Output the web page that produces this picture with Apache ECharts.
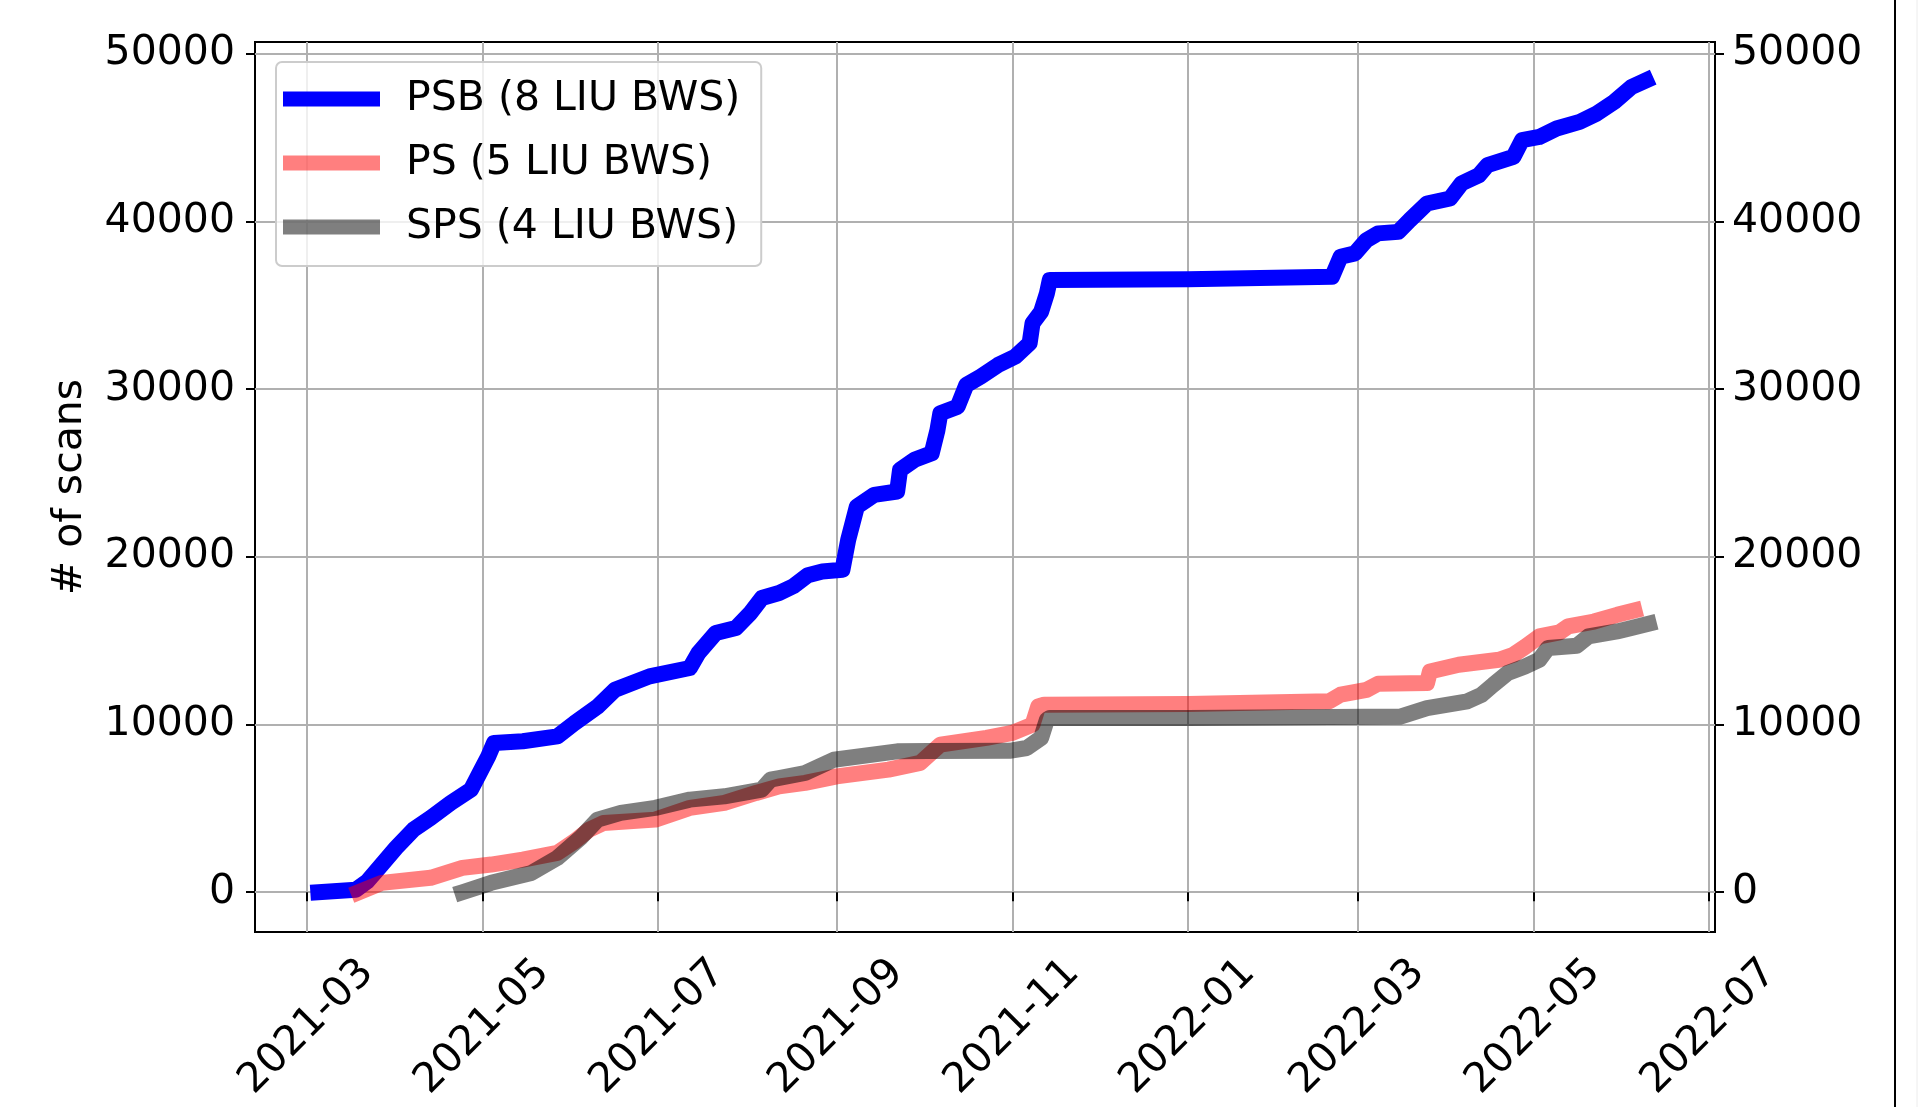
<!DOCTYPE html>
<html>
<head>
<meta charset="utf-8">
<title>LIU BWS scans</title>
<script src="https://cdn.jsdelivr.net/npm/echarts@6/dist/echarts.min.js"></script>
<style>
  html, body { margin: 0; padding: 0; background: #fff; }
  #chart { width: 1924px; height: 1107px; }
</style>
</head>
<body>
<div id="chart"></div>
<script>
// cumulative number of scans
const psbDates = ["2021-03-05", "2021-03-18", "2021-03-22", "2021-03-26", "2021-04-01", "2021-04-07", "2021-04-13", "2021-04-20", "2021-04-27", "2021-04-30",
  "2021-05-03", "2021-05-05", "2021-05-15", "2021-05-27", "2021-06-02", "2021-06-10", "2021-06-16", "2021-06-28", "2021-07-12", "2021-07-15",
  "2021-07-21", "2021-07-28", "2021-08-02", "2021-08-06", "2021-08-12", "2021-08-17", "2021-08-22", "2021-08-27", "2021-09-03", "2021-09-05",
  "2021-09-08", "2021-09-14", "2021-09-22", "2021-09-23", "2021-09-28", "2021-10-04", "2021-10-06", "2021-10-07", "2021-10-13", "2021-10-16",
  "2021-10-21", "2021-10-27", "2021-11-02", "2021-11-07", "2021-11-08", "2021-11-11", "2021-11-13", "2021-11-14", "2022-01-01", "2022-02-20",
  "2022-02-23", "2022-02-28", "2022-03-04", "2022-03-08", "2022-03-15", "2022-03-19", "2022-03-25", "2022-04-02", "2022-04-06", "2022-04-12",
  "2022-04-15", "2022-04-24", "2022-04-27", "2022-05-03", "2022-05-09", "2022-05-17", "2022-05-23", "2022-05-29", "2022-06-04", "2022-06-09"];
const psbValues = [0, 150, 650, 1450, 2650, 3730, 4430, 5330, 6120, 7110,
  8100, 8900, 9000, 9290, 10090, 11080, 12070, 12870, 13370, 14260,
  15450, 15750, 16640, 17540, 17840, 18250, 18900, 19120, 19230, 21010,
  22990, 23690, 23890, 25180, 25780, 26170, 27560, 28560, 28950, 30240,
  30740, 31430, 31930, 32730, 33920, 34610, 35700, 36500, 36550, 36690,
  37890, 38090, 38880, 39280, 39370, 40070, 41060, 41360, 42260, 42750,
  43350, 43840, 44840, 45030, 45530, 45930, 46430, 47120, 48010, 48400];

const psDates = ["2021-03-19", "2021-03-27", "2021-04-13", "2021-04-24", "2021-05-04", "2021-05-15", "2021-05-27", "2021-06-02", "2021-06-07", "2021-06-12",
  "2021-06-30", "2021-07-12", "2021-07-24", "2021-08-04", "2021-08-12", "2021-08-21", "2021-09-01", "2021-09-19", "2021-09-30", "2021-10-07",
  "2021-10-23", "2021-11-01", "2021-11-08", "2021-11-10", "2021-11-12", "2022-01-01", "2022-02-19", "2022-02-23", "2022-03-04", "2022-03-08",
  "2022-03-25", "2022-03-26", "2022-04-05", "2022-04-19", "2022-04-24", "2022-04-28", "2022-05-03", "2022-05-10", "2022-05-13", "2022-05-22",
  "2022-05-30", "2022-06-05"];
const psValues = [0, 560, 860, 1450, 1650, 1950, 2350, 3040, 3730, 4130,
  4330, 5030, 5330, 5920, 6310, 6520, 6910, 7310, 7710, 8800,
  9200, 9500, 9990, 11080, 11180, 11220, 11380, 11780, 12070, 12430,
  12470, 13160, 13560, 13860, 14160, 14620, 15250, 15490, 15850, 16140,
  16540, 16800];

const spsDates = ["2021-04-24", "2021-05-04", "2021-05-18", "2021-05-27", "2021-06-04", "2021-06-10", "2021-06-18", "2021-06-30", "2021-07-12", "2021-07-24",
  "2021-08-06", "2021-08-09", "2021-08-12", "2021-08-21", "2021-08-31", "2021-09-22", "2021-10-03", "2021-10-31", "2021-11-06", "2021-11-11",
  "2021-11-13", "2021-11-14", "2022-01-01", "2022-03-16", "2022-03-25", "2022-04-08", "2022-04-13", "2022-04-17", "2022-04-22", "2022-04-28",
  "2022-05-03", "2022-05-06", "2022-05-16", "2022-05-20", "2022-05-30", "2022-06-04", "2022-06-10"];
const spsValues = [0, 560, 1150, 2050, 3240, 4330, 4730, 5030, 5520, 5720,
  6120, 6710, 6810, 7110, 7900, 8400, 8420, 8430, 8600, 9200,
  10290, 10390, 10390, 10480, 10980, 11380, 11780, 12370, 13070, 13460,
  13860, 14560, 14700, 15250, 15550, 15750, 16010];

const xTickLabels = ["2021-03", "2021-05", "2021-07", "2021-09", "2021-11", "2022-01", "2022-03", "2022-05", "2022-07"];
const yTicks = [0, 10000, 20000, 30000, 40000, 50000];

const FONT = "DejaVu Sans";
const toTs = s => Date.parse(s.length === 7 ? s + "-01" : s);
const pairs = (dates, vals) => dates.map((d, i) => [toTs(d), vals[i]]);
const xTicks = xTickLabels.map(toTs);
const fmtMonth = v => {
  const d = new Date(v);
  return d.getUTCFullYear() + "-" + String(d.getUTCMonth() + 1).padStart(2, "0");
};

const chart = echarts.init(document.getElementById("chart"));

function yAxisCfg(pos, margin) {
  return {
    type: "value",
    position: pos,
    min: -2370,
    max: 50690,
    axisLine: { show: false },
    axisTick: { show: true, inside: false, length: 9, customValues: yTicks, lineStyle: { color: "#000", width: 2 } },
    axisLabel: {
      customValues: yTicks,
      formatter: v => String(v),
      margin: margin,
      fontSize: 41,
      fontFamily: FONT,
      color: "#000"
    },
    splitLine: { show: pos === "left", lineStyle: { color: "#b0b0b0", width: 2 } }
  };
}

const lineSeries = (name, color, data) => ({
  name: name,
  type: "line",
  data: data,
  color: color,
  showSymbol: false,
  symbol: "none",
  lineStyle: { width: 16, color: color, cap: "square", join: "round" },
  emphasis: { disabled: true }
});

const option = {
  animation: false,
  backgroundColor: "#fff",
  grid: {
    left: 255, right: 209, top: 42, bottom: 175,
    show: true, borderColor: "#000", borderWidth: 2, backgroundColor: "transparent"
  },
  legend: {
    orient: "vertical",
    left: 276,
    top: 62,
    icon: "rect",
    itemWidth: 97,
    itemHeight: 15,
    itemGap: 20,
    itemStyle: { borderWidth: 0 },
    padding: [15, 21, 17, 7],
    backgroundColor: "rgba(255,255,255,0.8)",
    borderColor: "#cccccc",
    borderWidth: 2,
    borderRadius: 6,
    textStyle: { fontSize: 41, fontFamily: FONT, color: "#000", lineHeight: 44, padding: [0, 0, 0, 21] }
  },
  xAxis: {
    type: "value",
    min: toTs("2021-02-11"),
    max: toTs("2022-07-03"),
    axisLine: { show: false },
    axisTick: { show: true, length: 9, customValues: xTicks, lineStyle: { color: "#000", width: 2 } },
    axisLabel: {
      customValues: xTicks,
      formatter: fmtMonth,
      rotate: 45,
      align: "center",
      verticalAlign: "middle",
      margin: 95,
      fontSize: 41,
      fontFamily: FONT,
      color: "#000"
    },
    splitLine: { show: true, lineStyle: { color: "#b0b0b0", width: 2 } }
  },
  yAxis: [
    Object.assign(yAxisCfg("left", 20), {
      name: "# of scans",
      nameLocation: "middle",
      nameGap: 164,
      nameTextStyle: { fontSize: 41, fontFamily: FONT, color: "#000" }
    }),
    yAxisCfg("right", 17)
  ],
  series: [
    lineSeries("PSB (8 LIU BWS)", "#0000ff", pairs(psbDates, psbValues)),
    lineSeries("PS (5 LIU BWS)", "rgba(255,0,0,0.5)", pairs(psDates, psValues)),
    lineSeries("SPS (4 LIU BWS)", "rgba(0,0,0,0.5)", pairs(spsDates, spsValues))
  ],
  graphic: [
    { type: "line", shape: { x1: 1895, y1: 0, x2: 1895, y2: 1107 }, style: { stroke: "#000", lineWidth: 2 } },
    { type: "line", shape: { x1: 1917, y1: 0, x2: 1917, y2: 1107 }, style: { stroke: "#ececec", lineWidth: 1 } }
  ]
};

chart.setOption(option);
</script>
</body>
</html>
